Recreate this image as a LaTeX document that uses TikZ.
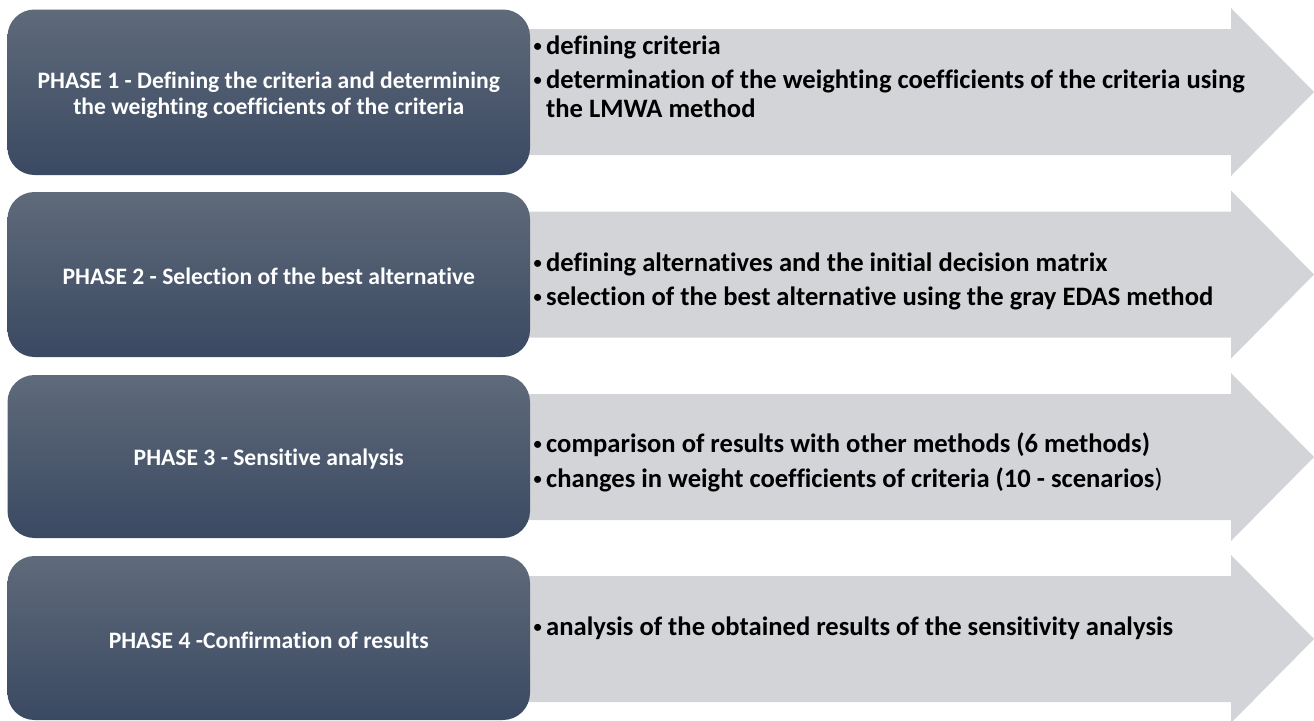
\documentclass[tikz,border=0pt]{standalone}
\usepackage{fontspec}
\setmainfont{Carlito}[Ligatures=NoCommon]
\definecolor{phtop}{RGB}{95,106,122}
\definecolor{phbot}{RGB}{58,73,98}
\definecolor{argray}{RGB}{211,212,216}
\newcommand\bul{\makebox[13pt][l]{\hspace{0.5pt}\raisebox{2.5pt}{\scalebox{0.62}{•}}}}
\begin{document}
\begin{tikzpicture}[x=1pt,y=-1pt,
  phase/.style={rounded corners=27pt, top color=phtop, bottom color=phbot, draw=none,
    minimum width=522.5pt, inner sep=0pt},
  phasetext/.style={text=white, font=\fontsize{23.6}{26}\selectfont\bfseries,
    align=center, inner sep=0pt},
  arrowshape/.style={fill=argray},
  item/.style={anchor=base west, inner sep=0pt, font=\fontsize{26.6}{29}\selectfont\bfseries}]
\useasboundingbox (0,0) rectangle (1314,720);
% arrows
\foreach \c/\n in {92/1, 274.5/2, 457/3, 639/4}{
  \fill[arrowshape] (500,\c-63) -- (1231,\c-63) -- (1231,\c-84) -- (1314,\c)
     -- (1231,\c+84) -- (1231,\c+63) -- (500,\c+63) -- cycle;
}
% phase boxes
\node[phase, minimum height=165.5pt] (p1) at (268.75,92.25) {};
\node[phase, minimum height=165pt] (p2) at (268.75,274.5) {};
\node[phase, minimum height=163pt] (p3) at (268.75,456.5) {};
\node[phase, minimum height=164pt] (p4) at (268.75,638) {};
\node[phasetext] (t1) at ([yshift=-2.5pt]p1.center)
  {PHASE 1 - Defining the criteria and determining\\the weighting coefficients of the criteria};
\node[phasetext] (t2) at ([yshift=-1.5pt]p2.center) {PHASE 2 - Selection of the best alternative};
\node[phasetext] (t3) at ([yshift=-3pt]p3.center) {PHASE 3 - Sensitive analysis};
\node[phasetext] (t4) at ([yshift=-2pt]p4.center) {PHASE 4 -Confirmation of results};
% items
\node[item] (a1l1) at (533,54) {\bul defining criteria};
\node[item] (a1l2) at (533,88) {\bul determination of the weighting coefficients of the criteria using};
\node[item] (a1l3) at (533,117) {\hspace*{13pt}the LMWA method};
\node[item] (a2l1) at (533,271) {\bul defining alternatives and the initial decision matrix};
\node[item] (a2l2) at (533,305) {\bul selection of the best alternative using the gray EDAS method};
\node[item] (a3l1) at (533,452) {\bul comparison of results with other methods (6 methods)};
\node[item] (a3l2) at (533,487) {\bul changes in weight coefficients of criteria (10 - scenarios{\mdseries)}};
\node[item] (a4l1) at (533,635) {\bul analysis of the obtained results of the sensitivity analysis};
\end{tikzpicture}
\end{document}
